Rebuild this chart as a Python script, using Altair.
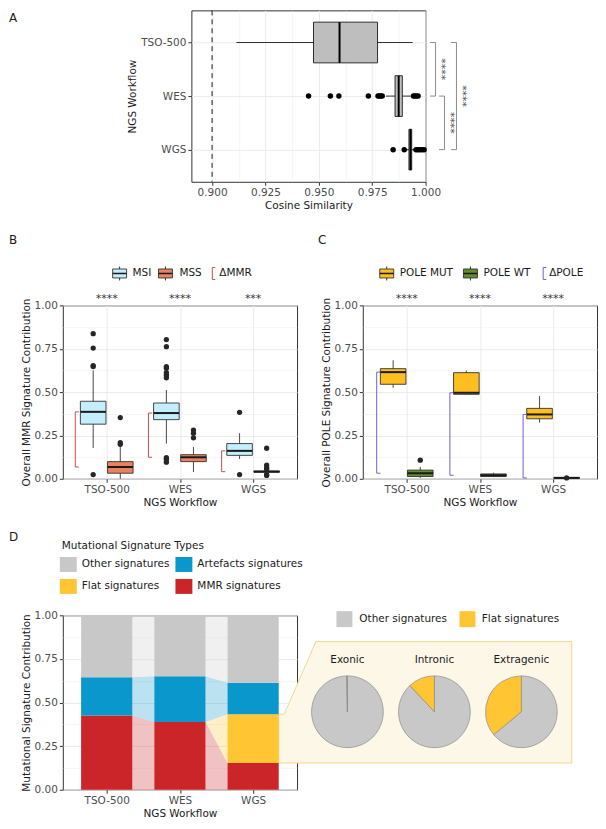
import json
import altair as alt
import pandas as pd

FONT = "DejaVu Sans"
INK = "#1a1a1a"
LAB = "#4d4d4d"
FRAME = "#333333"
GRID = "#ebebeb"
FS = 10.5

workflows = ["TSO-500", "WES", "WGS"]

# ---------------- Panel A : cosine similarity ----------------
a_low = [0.9114, 0.9814, 0.9905]
a_q1 = [0.9475, 0.9857, 0.9922]
a_med = [0.9597, 0.9874, 0.9929]
a_q3 = [0.9775, 0.9891, 0.9935]
a_high = [0.9940, 0.9930, 0.9950]
a_out_wf = ["WES"] * 12 + ["WGS"] * 7
a_out_val = [0.9452, 0.9554, 0.9594, 0.9732, 0.9777, 0.9784, 0.9790, 0.9797,
             0.9943, 0.9950, 0.9957, 0.9965,
             0.9848, 0.9900, 0.9955, 0.9964, 0.9973, 0.9983, 0.9993]
a_threshold = [0.90]
a_pairs = [("TSO-500", "WES"), ("WES", "WGS"), ("TSO-500", "WGS")]
a_pair_sig = ["****", "****", "****"]

# ---------------- Panel B : MMR ----------------
b_groups = ["MSI", "MSS"]
b_fill = ["#C4EEFB", "#E8825F"]
msi_low = [0.178, 0.203, 0.114]
msi_q1 = [0.315, 0.341, 0.135]
msi_med = [0.386, 0.379, 0.161]
msi_q3 = [0.447, 0.437, 0.203]
msi_high = [0.625, 0.512, 0.263]
mss_low = [0.000, 0.039, 0.034]
mss_q1 = [0.032, 0.099, 0.038]
mss_med = [0.068, 0.124, 0.041]
mss_q3 = [0.099, 0.139, 0.045]
mss_high = [0.193, 0.184, 0.050]
b_out_wf = (["TSO-500"] * 5 + ["WES"] * 10 + ["WGS"] * 2 +
            ["TSO-500"] * 3 + ["WES"] * 3 + ["WGS"] * 6)
b_out_grp = ["MSI"] * 17 + ["MSS"] * 12
b_out_val = [0.837, 0.754, 0.653, 0.647, 0.024,
             0.803, 0.762, 0.647, 0.638, 0.612, 0.597, 0.582, 0.122, 0.113, 0.096,
             0.383, 0.024,
             0.353, 0.208, 0.199,
             0.281, 0.263, 0.236,
             0.176, 0.079, 0.064, 0.055, 0.024, 0.019]
b_sig = ["****", "****", "***"]

# ---------------- Panel C : POLE ----------------
c_groups = ["POLE MUT", "POLE WT"]
c_fill = ["#FDBE1F", "#668B2E"]
mut_low = [0.525, 0.487, 0.324]
mut_q1 = [0.545, 0.487, 0.346]
mut_med = [0.615, 0.496, 0.371]
mut_q3 = [0.635, 0.612, 0.406]
mut_high = [0.683, 0.624, 0.477]
wt_low = [0.005, 0.010, 0.002]
wt_q1 = [0.013, 0.013, 0.003]
wt_med = [0.032, 0.020, 0.005]
wt_q3 = [0.050, 0.028, 0.008]
wt_high = [0.068, 0.035, 0.010]
c_out_wf = ["TSO-500", "WGS"]
c_out_grp = ["POLE WT", "POLE WT"]
c_out_val = [0.107, 0.005]
c_sig = ["****", "****", "****"]

# ---------------- Panel D : signature types ----------------
d_types = ["MMR signatures", "Flat signatures", "Artefacts signatures", "Other signatures"]
d_colors = ["#CC2529", "#FFC533", "#0A97CB", "#C8C8C8"]
d_tso = [0.425, 0.000, 0.220, 0.355]
d_wes = [0.388, 0.000, 0.262, 0.350]
d_wgs = [0.153, 0.280, 0.180, 0.387]
pie_regions = ["Exonic", "Intronic", "Extragenic"]
pie_flat = [0.003, 0.12, 0.36]

# ---------------- layout ----------------
WA, HA = 235, 172
WB, HB = 235, 174
WD, HD = 235, 175
LBL_X = -54          # panel label offset (px) left of plots
SPACER_W = 44
ONE = pd.DataFrame({"k": [0]})
LABEXPR = json.dumps(workflows) + "[datum.value - 1]"
FRAC_TICKS = [i * 0.125 for i in range(9)]
A_TICKS = [0.9 + 0.0125 * i for i in range(9)]


def minor_test(k):
    return f"abs(datum.value*{k} - round(datum.value*{k})) > 0.001"


def cont_axis(values, k, fmt, title):
    t = minor_test(k)
    return alt.Axis(values=values, title=title,
                    labelExpr=f"{t} ? '' : format(datum.value, '{fmt}')",
                    tickColor={"condition": {"test": t, "value": "transparent"}, "value": FRAME},
                    gridWidth={"condition": {"test": t, "value": 0.5}, "value": 1.0},
                    labelFlush=False, labelOverlap=False)


def cat_axis(title):
    return alt.Axis(values=[1, 2, 3], labelExpr=LABEXPR, title=title,
                    labelFlush=False, labelOverlap=False, gridWidth=1.0)


def cat_x(title):
    def f(field):
        return alt.X(field, type="quantitative",
                     scale=alt.Scale(domain=[0.4, 3.6], nice=False, zero=False),
                     axis=cat_axis(title))
    return f


def frac_y(title):
    def f(field):
        return alt.Y(field, type="quantitative",
                     scale=alt.Scale(domain=[0, 1], nice=False, zero=False),
                     axis=cont_axis(FRAC_TICKS, 4, ".2f", title))
    return f


def vtext(txt, x, y, size=FS, align="left", color=INK, angle=0, baseline="middle"):
    return alt.Chart(ONE).mark_text(text=txt, align=align, baseline=baseline, fontSize=size,
                                    font=FONT, color=color, angle=angle).encode(
        x=alt.value(x), y=alt.value(y))


def vrule(x1, y1, x2, y2, color, width=1.0):
    return alt.Chart(ONE).mark_rule(color=color, strokeWidth=width).encode(
        x=alt.value(x1), y=alt.value(y1), x2=alt.value(x2), y2=alt.value(y2))


def vrect(x1, y1, x2, y2, fill, stroke=FRAME, sw=0.9):
    return alt.Chart(ONE).mark_rect(fill=fill, stroke=stroke, strokeWidth=sw).encode(
        x=alt.value(x1), y=alt.value(y1), x2=alt.value(x2), y2=alt.value(y2))


def box_glyph(cx, cy, fill):
    return [vrule(cx, cy - 7, cx, cy + 7, FRAME),
            vrect(cx - 7, cy - 4.5, cx + 7, cy + 4.5, fill),
            vrule(cx - 7, cy, cx + 7, cy, INK, 1.5)]


def bracket_glyph(bx, cy, color):
    return [vrule(bx, cy - 6, bx, cy + 6, color),
            vrule(bx, cy - 6, bx + 3, cy - 6, color),
            vrule(bx, cy + 6, bx + 3, cy + 6, color)]


def box_frame(groups, stats, offsets, half):
    rows = []
    for g, st, off in zip(groups, stats, offsets):
        low, q1, med, q3, high = st
        for i, w in enumerate(workflows):
            xc = i + 1 + off
            rows.append(dict(wf=w, grp=g, xc=xc, xl=xc - half, xr=xc + half,
                             low=low[i], q1=q1[i], med=med[i], q3=q3[i], high=high[i]))
    return pd.DataFrame(rows)


def out_frame(wfs, grps, vals, groups, offsets):
    off = dict(zip(groups, offsets))
    return pd.DataFrame({"wf": wfs, "grp": grps, "val": vals,
                         "xc": [workflows.index(w) + 1 + off[g] for w, g in zip(wfs, grps)]})


def vbox_layers(df, dfo, X, Y, fscale):
    wh = alt.Chart(df).mark_rule(color=FRAME, strokeWidth=0.9).encode(x=X("xc"), y=Y("low"), y2="high")
    bx = alt.Chart(df).mark_rect(stroke=FRAME, strokeWidth=0.9).encode(
        x=X("xl"), x2="xr", y=Y("q1"), y2="q3",
        fill=alt.Fill("grp:N", scale=fscale, legend=None))
    md = alt.Chart(df).mark_rule(color=INK, strokeWidth=2).encode(x=X("xl"), x2="xr", y=Y("med"))
    ou = alt.Chart(dfo).mark_circle(size=28, color="#262626", opacity=1).encode(x=X("xc"), y=Y("val"))
    return [wh, bx, md, ou]


def delta_layers(hi, lo, off, tick, color, X, Y):
    df = pd.DataFrame({"x": [i + 1 + off for i in range(3)], "hi": hi, "lo": lo})
    ends = pd.DataFrame({"x": [i + 1 + off for i in range(3)] * 2,
                         "xt": [i + 1 + off + tick for i in range(3)] * 2,
                         "y": list(hi) + list(lo)})
    vert = alt.Chart(df).mark_rule(color=color, strokeWidth=1).encode(x=X("x"), y=Y("hi"), y2="lo")
    ticks = alt.Chart(ends).mark_rule(color=color, strokeWidth=1).encode(x=X("x"), x2="xt", y=Y("y"))
    return [vert, ticks]


def star_layer(sig, X):
    return alt.Chart(pd.DataFrame({"x": [1, 2, 3], "s": sig})).mark_text(
        fontSize=11, font=FONT, color="#333333", baseline="middle").encode(
        x=X("x"), y=alt.value(-6), text="s:N")


# ======================= Panel A =======================
dfa = pd.DataFrame({"wf": workflows, "pos": [1, 2, 3], "low": a_low, "q1": a_q1,
                    "med": a_med, "q3": a_q3, "high": a_high})
dfa["lo"] = dfa["pos"] - 0.38
dfa["hi"] = dfa["pos"] + 0.38
dfa_out = pd.DataFrame({"wf": a_out_wf, "val": a_out_val})
dfa_out["pos"] = [workflows.index(w) + 1 for w in dfa_out["wf"]]


def AX(field):
    return alt.X(field, type="quantitative",
                 scale=alt.Scale(domain=[0.8903, 1.0], nice=False, zero=False),
                 axis=cont_axis(A_TICKS, 40, ".3f", "Cosine Similarity"))


def AY(field):
    return alt.Y(field, type="quantitative",
                 scale=alt.Scale(domain=[0.4, 3.6], nice=False, zero=False, reverse=True),
                 axis=cat_axis("NGS Workflow"))


BRC = "#8c8c8c"
a_layers = [
    alt.Chart(pd.DataFrame({"v": a_threshold})).mark_rule(
        color=INK, strokeDash=[5, 4], strokeWidth=1).encode(x=AX("v")),
    alt.Chart(dfa).mark_rule(color=INK, strokeWidth=0.9).encode(x=AX("low"), x2="high", y=AY("pos")),
    alt.Chart(dfa).mark_rect(fill="#BEBEBE", stroke=INK, strokeWidth=0.9).encode(
        x=AX("q1"), x2="q3", y=AY("lo"), y2="hi"),
    alt.Chart(dfa).mark_rule(color="#000000", strokeWidth=2).encode(x=AX("med"), y=AY("lo"), y2="hi"),
    alt.Chart(dfa_out).mark_circle(size=30, color="#000000", opacity=1).encode(x=AX("val"), y=AY("pos")),
]
br_offsets = [10, 19, 31]
for (g1, g2), sig, off in zip(a_pairs, a_pair_sig, br_offsets):
    y1, y2 = workflows.index(g1) + 1, workflows.index(g2) + 1
    bx = WA + off
    a_layers.append(alt.Chart(pd.DataFrame({"y1": [y1], "y2": [y2]})).mark_rule(
        color=BRC, strokeWidth=1).encode(x=alt.value(bx), y=AY("y1"), y2="y2"))
    a_layers.append(alt.Chart(pd.DataFrame({"y": [y1, y2]})).mark_rule(
        color=BRC, strokeWidth=1).encode(x=alt.value(bx - 5.5), x2=alt.value(bx), y=AY("y")))
    a_layers.append(alt.Chart(pd.DataFrame({"y": [(y1 + y2) / 2]})).mark_text(
        text=sig, angle=90, fontSize=11, font=FONT, color="#555555", align="center",
        baseline="middle").encode(x=alt.value(bx + 5.5), y=AY("y")))
chartA = alt.layer(*a_layers).properties(width=WA, height=HA)
spacerA = vtext("A", LBL_X, 8, size=12).properties(
    width=SPACER_W, height=HA, view=alt.ViewBackground(stroke="transparent"))
rowA = alt.hconcat(spacerA, chartA, spacing=19)

# ======================= Panel B =======================
BX = cat_x("NGS Workflow")
BY = frac_y("Overall MMR Signature Contribution")
dfb = box_frame(b_groups, [(msi_low, msi_q1, msi_med, msi_q3, msi_high),
                           (mss_low, mss_q1, mss_med, mss_q3, mss_high)], [-0.185, 0.185], 0.175)
dfb_out = out_frame(b_out_wf, b_out_grp, b_out_val, b_groups, [-0.185, 0.185])
bscale = alt.Scale(domain=b_groups, range=b_fill)
MMR_C = "#C0504D"
b_layers = vbox_layers(dfb, dfb_out, BX, BY, bscale)
b_layers += delta_layers(msi_med, mss_med, -0.43, 0.05, MMR_C, BX, BY)
b_layers.append(star_layer(b_sig, BX))
b_layers += box_glyph(57, -32, b_fill[0]) + box_glyph(103, -32, b_fill[1])
b_layers += [vtext("MSI", 70, -32), vtext("MSS", 117, -32)]
b_layers += bracket_glyph(150, -32, MMR_C) + [vtext("ΔMMR", 157, -32)]
b_layers.append(vtext("B", LBL_X, -66, size=12))
chartB = alt.layer(*b_layers).properties(width=WB, height=HB)

# ======================= Panel C =======================
CX = cat_x("NGS Workflow")
CY = frac_y("Overall POLE Signature Contribution")
dfc = box_frame(c_groups, [(mut_low, mut_q1, mut_med, mut_q3, mut_high),
                           (wt_low, wt_q1, wt_med, wt_q3, wt_high)], [-0.185, 0.185], 0.175)
dfc_out = out_frame(c_out_wf, c_out_grp, c_out_val, c_groups, [-0.185, 0.185])
cscale = alt.Scale(domain=c_groups, range=c_fill)
POLE_C = "#6A62CC"
c_layers = vbox_layers(dfc, dfc_out, CX, CY, cscale)
c_layers += delta_layers(mut_med, wt_med, -0.41, 0.05, POLE_C, CX, CY)
c_layers.append(star_layer(c_sig, CX))
c_layers += box_glyph(24, -32, c_fill[0]) + box_glyph(108, -32, c_fill[1])
c_layers += [vtext("POLE MUT", 37, -32), vtext("POLE WT", 121, -32)]
c_layers += bracket_glyph(181, -32, POLE_C) + [vtext("ΔPOLE", 187, -32)]
c_layers.append(vtext("C", -45, -66, size=12))
chartC = alt.layer(*c_layers).properties(width=WB, height=HB)

# ======================= Panel D =======================
DX = cat_x("NGS Workflow")
DY = frac_y("Mutational Signature Contribution")
sscale = alt.Scale(domain=d_types, range=d_colors)
BW = 0.35
bars = []
for i, (w, vals) in enumerate(zip(workflows, [d_tso, d_wes, d_wgs])):
    acc = 0.0
    for t, v in zip(d_types, vals):
        bars.append(dict(wf=w, type=t, x1=i + 1 - BW, x2=i + 1 + BW, y0=acc, y1=acc + v))
        acc += v
dfd = pd.DataFrame(bars)
flows = []
for i in range(2):
    for t in d_types:
        a = dfd[(dfd.wf == workflows[i]) & (dfd.type == t)].iloc[0]
        b = dfd[(dfd.wf == workflows[i + 1]) & (dfd.type == t)].iloc[0]
        fid = f"{i}-{t}"
        flows.append(dict(fid=fid, type=t, x=i + 1 + BW, lo=a.y0, hi=a.y1))
        flows.append(dict(fid=fid, type=t, x=i + 2 - BW, lo=b.y0, hi=b.y1))
dff = pd.DataFrame(flows)
flat_wgs = dfd[(dfd.wf == "WGS") & (dfd.type == "Flat signatures")].iloc[0]
call = pd.DataFrame({"x": [3 + BW, 3.425, 3.857, 7.354],
                     "top": [flat_wgs.y1, flat_wgs.y1, 0.849, 0.849],
                     "bot": [flat_wgs.y0] * 4})
pie_rows = []
for r, f in zip(pie_regions, pie_flat):
    pie_rows.append(dict(region=r, type="Other signatures", val=1 - f, ord=0))
    pie_rows.append(dict(region=r, type="Flat signatures", val=f, ord=1))
dfp = pd.DataFrame(pie_rows)
pie_cx = [4.289, 5.477, 6.665]
PIE_CY, PIE_TY, PLEG_Y = 0.447, 0.745, 0.978

d_layers = [
    alt.Chart(call).mark_area(orient="vertical", fill="#FDF7E8", stroke="#F1D88E",
                              strokeWidth=1).encode(x=DX("x"), y=DY("top"), y2="bot"),
    alt.Chart(dff).mark_area(orient="vertical", opacity=0.28).encode(
        x=DX("x"), y=DY("hi"), y2="lo", detail="fid:N",
        fill=alt.Fill("type:N", scale=sscale, legend=None)),
    alt.Chart(dfd).mark_rect().encode(x=DX("x1"), x2="x2", y=DY("y0"), y2="y1",
                                      fill=alt.Fill("type:N", scale=sscale, legend=None)),
]
for r, cx in zip(pie_regions, pie_cx):
    sub = dfp[dfp.region == r].copy()
    sub["px"] = cx
    sub["py"] = PIE_CY
    d_layers.append(alt.Chart(sub).mark_arc(radius=36, stroke="#8c8c8c", strokeWidth=0.7).encode(
        theta=alt.Theta("val:Q", stack=True), order=alt.Order("ord:Q"),
        fill=alt.Fill("type:N", scale=sscale, legend=None),
        x=DX("px"), y=DY("py")))
    d_layers.append(alt.Chart(pd.DataFrame({"px": [cx], "py": [PIE_TY]})).mark_text(
        text=r, fontSize=FS, font=FONT, color=INK, align="center", baseline="middle").encode(
        x=DX("px"), y=DY("py")))
pleg = pd.DataFrame({"type": ["Other signatures", "Flat signatures"],
                     "sx": [4.248, 5.929], "tx": [4.451, 6.125], "py": [PLEG_Y] * 2})
d_layers.append(alt.Chart(pleg).mark_point(shape="square", filled=True, size=256, opacity=1).encode(
    x=DX("sx"), y=DY("py"), fill=alt.Fill("type:N", scale=sscale, legend=None)))
d_layers.append(alt.Chart(pleg).mark_text(fontSize=FS, font=FONT, color=INK, align="left",
                                          baseline="middle").encode(
    x=DX("tx"), y=DY("py"), text="type:N"))
# top legend of panel D
leg_items = [("Other signatures", -3, -51), ("Artefacts signatures", 113, -51),
             ("Flat signatures", -3, -29), ("MMR signatures", 113, -29)]
d_layers.append(vtext("Mutational Signature Types", -1, -70))
for name, lx, ly in leg_items:
    col = d_colors[d_types.index(name)]
    d_layers.append(vrect(lx, ly - 7.5, lx + 17, ly + 7.5, col, stroke=col, sw=0))
    d_layers.append(vtext(name, lx + 22, ly))
d_layers.append(vtext("D", LBL_X, -79, size=12))
chartD = alt.layer(*d_layers).properties(width=WD, height=HD)

rowBC = alt.hconcat(chartB, chartC, spacing=19).resolve_scale(fill="independent")

chart = (alt.vconcat(rowA, rowBC, chartD, spacing=21)
         .resolve_scale(fill="independent", theta="independent")
         .properties(padding=0, background="white")
         .configure(font=FONT)
         .configure_view(stroke=FRAME, strokeWidth=1)
         .configure_axis(labelFont=FONT, labelFontSize=FS, labelColor=LAB,
                         titleFont=FONT, titleFontSize=FS, titleColor=INK,
                         titleFontWeight="normal", tickColor=FRAME, tickSize=3.5,
                         tickWidth=1, domain=False, gridColor=GRID,
                         labelPadding=2, titlePadding=3))

chart.save("out.html", embed_options={"renderer": "svg", "actions": False})
